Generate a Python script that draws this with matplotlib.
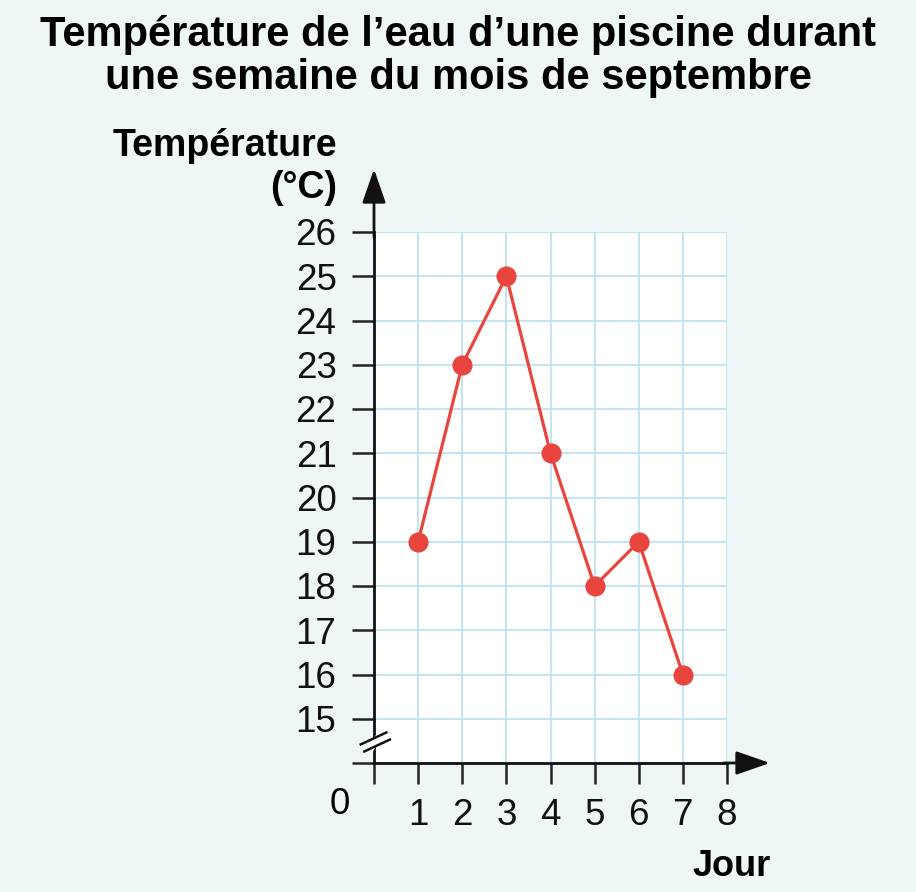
import matplotlib
matplotlib.use("Agg")
import matplotlib.pyplot as plt

# water temperature over one week in September
jours = [1, 2, 3, 4, 5, 6, 7]
temperatures = [19, 23, 25, 21, 18, 19, 16]
y_ticks = [14, 15, 16, 17, 18, 19, 20, 21, 22, 23, 24, 25, 26]
y_labels = [""] + [str(v) for v in y_ticks[1:]]
x_ticks = [0, 1, 2, 3, 4, 5, 6, 7, 8]
x_labels = [""] + [str(v) for v in x_ticks[1:]]

W, H = 916, 892
bg = "#eff6f7"
grid_col = "#bfe2f0"
red = "#e8453f"

plt.rcParams["font.family"] = ["Liberation Sans", "DejaVu Sans"]

fig = plt.figure(figsize=(W / 100, H / 100), dpi=100, facecolor=bg)
ax = fig.add_axes([374 / W, 1 - 763 / H, (727 - 374) / W, (763 - 232) / H])
ax.set_facecolor("white")
ax.set_xlim(0, 8)
ax.set_ylim(14, 26)

ax.set_xticks(x_ticks)
ax.set_xticklabels(x_labels)
ax.set_yticks(y_ticks)
ax.set_yticklabels(y_labels)
ax.tick_params(axis="both", direction="out", width=1.8, color="#222222",
               labelsize=26.5, labelcolor="#111111")
ax.tick_params(axis="y", length=16, pad=11)
ax.tick_params(axis="x", length=15, pad=10)

ax.grid(True, color=grid_col, lw=1.3)
ax.set_axisbelow(True)
for s in ["top", "right"]:
    ax.spines[s].set_visible(False)
for s in ["left", "bottom"]:
    ax.spines[s].set_linewidth(2.0)
    ax.spines[s].set_color("#111111")

# arrows on the axes
ax.annotate("", xy=(0, 1 + 63 / 531), xytext=(0, 0.99), xycoords="axes fraction",
            arrowprops=dict(arrowstyle="-|>,head_length=0.95,head_width=0.33",
                            lw=2.0, color="#111111", mutation_scale=22,
                            shrinkA=0, shrinkB=0))
ax.annotate("", xy=(1 + 43 / 353, 0), xytext=(0.99, 0), xycoords="axes fraction",
            arrowprops=dict(arrowstyle="-|>,head_length=0.95,head_width=0.33",
                            lw=2.0, color="#111111", mutation_scale=22,
                            shrinkA=0, shrinkB=0))

# axis break marks between 14 and 15
ax.plot([-0.10, 0.10], [14.30, 14.58], color="white", lw=5, clip_on=False,
        solid_capstyle="butt", zorder=5)
ax.plot([-0.30, 0.28], [14.42, 14.69], color="#111111", lw=1.8, clip_on=False, zorder=6)
ax.plot([-0.22, 0.36], [14.26, 14.53], color="#111111", lw=1.8, clip_on=False, zorder=6)

ax.plot(jours, temperatures, color=red, lw=2.3, marker="o", markersize=13.5,
        clip_on=False, zorder=4)

# texts
fig.text(0.5, 1 - 35 / H, "Température de l\u2019eau d\u2019une piscine durant",
         ha="center", va="center", fontsize=30, fontweight="bold")
fig.text(0.5, 1 - 78 / H, "une semaine du mois de septembre",
         ha="center", va="center", fontsize=30, fontweight="bold")
fig.text(337 / W, 1 - 146 / H, "Température", ha="right", va="center",
         fontsize=27, fontweight="bold")
fig.text(337 / W, 1 - 188 / H, "(°C)", ha="right", va="center",
         fontsize=27, fontweight="bold")
fig.text(340 / W, 1 - 804 / H, "0", ha="center", va="center", fontsize=26.5)
fig.text(732 / W, 1 - 866 / H, "Jour", ha="center", va="center",
         fontsize=26, fontweight="bold")

fig.savefig("out.png", dpi=100, facecolor=bg)
